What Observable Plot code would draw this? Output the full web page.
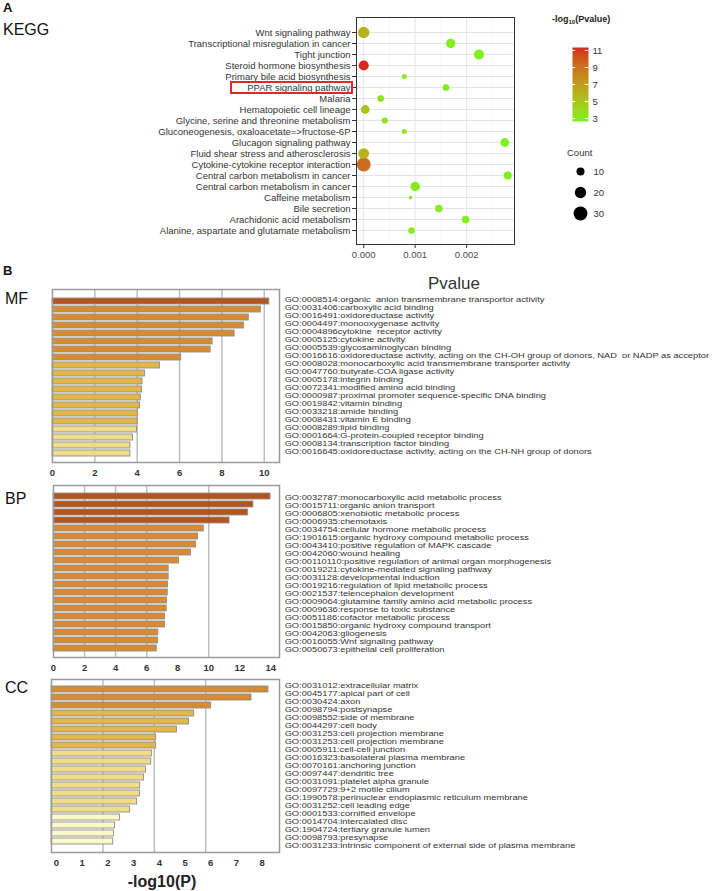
<!DOCTYPE html>
<html>
<head>
<meta charset="utf-8">
<script src="https://cdn.jsdelivr.net/npm/d3@7"></script>
<script src="https://cdn.jsdelivr.net/npm/@observablehq/plot@0.6"></script>
<style>
  body { margin: 0; background: #fff; }
  #root { position: relative; width: 718px; height: 891px; background: #fff; font-family: "Liberation Sans", Arial, sans-serif; color: #222; overflow: hidden; }
  #root svg { overflow: visible; }
  .lbl { position: absolute; white-space: nowrap; line-height: 1; }
</style>
</head>
<body>
<div id="root"></div>
<script>
// ---------------- Panel A data (KEGG) ----------------
const keggTerms = [
  "Wnt signaling pathway",
  "Transcriptional misregulation in cancer",
  "Tight junction",
  "Steroid hormone biosynthesis",
  "Primary bile acid biosynthesis",
  "PPAR signaling pathway",
  "Malaria",
  "Hematopoietic cell lineage",
  "Glycine, serine and threonine metabolism",
  "Gluconeogenesis, oxaloacetate=>fructose-6P",
  "Glucagon signaling pathway",
  "Fluid shear stress and atherosclerosis",
  "Cytokine-cytokine receptor interaction",
  "Central carbon metabolism in cancer",
  "Central carbon metabolism in cancer",
  "Caffeine metabolism",
  "Bile secretion",
  "Arachidonic acid metabolism",
  "Alanine, aspartate and glutamate metabolism"
];
const keggPvalue = [0.00000, 0.00169, 0.00224, 0.00000, 0.00079, 0.00160, 0.00033, 0.00003, 0.00041, 0.00079, 0.00274, 0.00000, 0.00000, 0.00280, 0.00100, 0.00091, 0.00146, 0.00198, 0.00093];
const keggLogP   = [6.0, 2.8, 2.7, 11.3, 3.1, 2.8, 3.5, 5.2, 3.4, 3.1, 2.6, 6.0, 9.3, 2.6, 3.0, 3.0, 2.8, 2.7, 3.0];
const keggCount  = [20, 14, 16, 16, 4, 7, 7, 12, 6, 4, 12, 18, 30, 10, 14, 2, 9, 9, 7];
const colorTicks = [3, 5, 7, 9, 11];
const countTicks = [10, 20, 30];
const keggXTicks = [0, 0.001, 0.002];
const keggXMinor = [0.0005, 0.0015, 0.0025];

// ---------------- Panel B data (GO) ----------------
const mfTerms = [
  "GO:0008514:organic  anion transmembrane transportor activity",
  "GO:0031406:carboxylic acid binding",
  "GO:0016491:oxidoreductase activity",
  "GO:0004497:monooxygenase activity",
  "GO:0004896cytokine  receptor activity",
  "GO:0005125:cytokine activity",
  "GO:0005539:glycosaminoglycan binding",
  "GO:0016616:oxidoreductase activity, acting on the CH-OH group of donors, NAD  or NADP as acceptor",
  "GO:0008028:monocarboxylic acid transmembrane transporter activity",
  "GO:0047760:butyrate-COA ligase activity",
  "GO:0005178:integrin binding",
  "GO:0072341:modified amino acid binding",
  "GO:0000987:proximal promoter sequence-specific DNA binding",
  "GO:0019842:vitamin binding",
  "GO:0033218:amide binding",
  "GO:0008431:vitamin E binding",
  "GO:0008289:lipid binding",
  "GO:0001664:G-protein-coupled receptor binding",
  "GO:0008134:transcription factor binding",
  "GO:0016645:oxidoreductase activity, acting on the CH-NH group of donors"
];
const mfValues = [10.24, 9.84, 9.27, 9.04, 8.60, 7.56, 7.47, 6.08, 5.08, 4.37, 4.25, 4.23, 4.17, 4.13, 4.04, 4.02, 3.99, 3.80, 3.68, 3.68];

const bpTerms = [
  "GO:0032787:monocarboxylic acid metabolic process",
  "GO:0015711:organic anion transport",
  "GO:0006805:xenobiotic metabolic process",
  "GO:0006935:chemotaxis",
  "GO:0034754:cellular hormone metabolic process",
  "GO:1901615:organic hydroxy compound metabolic process",
  "GO:0043410:positive regulation of MAPK cascade",
  "GO:0042060:wound healing",
  "GO:00110110:positive regulation of animal organ morphogenesis",
  "GO:0019221:cytokine-mediated signaling pathway",
  "GO:0031128:developmental induction",
  "GO:0019216:regulation of lipid metabolic process",
  "GO:0021537:telencephalon development",
  "GO:0009064:glutamine family amino acid metabolic process",
  "GO:0009636:response to toxic substance",
  "GO:0051186:cofactor metabolic process",
  "GO:0015850:organic hydroxy compound transport",
  "GO:0042063:gliogenesis",
  "GO:0016055:Wnt signaling pathway",
  "GO:0050673:epithelial cell proliferation"
];
const bpValues = [13.98, 12.88, 12.54, 11.34, 9.68, 9.31, 9.19, 8.86, 8.09, 7.42, 7.42, 7.38, 7.36, 7.31, 7.29, 7.18, 7.18, 6.75, 6.73, 6.65];

const ccTerms = [
  "GO:0031012:extracellular matrix",
  "GO:0045177:apical part of cell",
  "GO:0030424:axon",
  "GO:0098794:postsynapse",
  "GO:0098552:side of membrane",
  "GO:0044297:cell body",
  "GO:0031253:cell projection membrane",
  "GO:0031253:cell projection membrane",
  "GO:0005911:cell-cell junction",
  "GO:0016323:basolateral plasma membrane",
  "GO:0070161:anchoring junction",
  "GO:0097447:dendritic tree",
  "GO:0031091:platelet alpha granule",
  "GO:0097729:9+2 motile cilium",
  "GO:1990578:perinuclear endoplasmic reticulum membrane",
  "GO:0031252:cell leading edge",
  "GO:0001533:cornified envelope",
  "GO:0014704:intercalated disc",
  "GO:1904724:tertiary granule lumen",
  "GO:0098793:presynapse",
  "GO:0031233:intrinsic component of external side of plasma membrane"
];
const ccValues = [8.44, 7.78, 6.21, 5.55, 5.35, 4.88, 4.07, 4.07, 3.91, 3.88, 3.68, 3.60, 3.45, 3.44, 3.33, 3.06, 2.67, 2.47, 2.43, 2.40];

const barThresholds = [3, 4, 6, 10];
const barColors = ["#fbf9c6", "#f1dd86", "#e4b645", "#d98b31", "#b4541f"];

// ---------------- helpers ----------------
const root = document.getElementById("root");
function place(el, left, top) {
  el.style.position = "absolute";
  el.style.left = left + "px";
  el.style.top = top + "px";
  root.appendChild(el);
  return el;
}
function label(html, left, top, style) {
  const d = document.createElement("div");
  d.className = "lbl";
  d.innerHTML = html;
  Object.assign(d.style, style || {});
  return place(d, left, top);
}
const FONT = "Liberation Sans, Arial, sans-serif";

// ---------------- Panel A ----------------
const kegg = keggTerms.map((t, i) => ({i, term: t, p: keggPvalue[i], logp: keggLogP[i], count: keggCount[i]}));
const colorA = {type: "linear", domain: [2.6, 11.35], range: ["#7cf21c", "#d4281e"], interpolate: "lab", clamp: true};
const rA = {domain: [0, 30], range: [0, 6.93]};

const plotA = Plot.plot({
  width: 540, height: 270,
  marginLeft: 356, marginRight: 26, marginTop: 17, marginBottom: 26,
  style: {fontFamily: FONT, fontSize: "9.5px", color: "#333", background: "transparent"},
  x: {domain: [-0.00014, 0.00293]},
  y: {type: "point", domain: d3.range(keggTerms.length), insetTop: 7, insetBottom: 7},
  color: colorA,
  r: rA,
  marks: [
    Plot.ruleX(keggXMinor, {stroke: "#f2f2f2", strokeWidth: 0.6}),
    Plot.ruleX(keggXTicks, {stroke: "#e4e4e4", strokeWidth: 1}),
    Plot.ruleY(d3.range(keggTerms.length), {stroke: "#e4e4e4", strokeWidth: 1}),
    Plot.dot(kegg, {x: "p", y: "i", r: "count", fill: "logp", stroke: null}),
    Plot.frame({stroke: "#333", strokeWidth: 1}),
    Plot.axisX({ticks: keggXTicks, tickFormat: d3.format(".3f"), tickSize: 4, tickPadding: 3, fontSize: 9.5, stroke: "#333", fill: "#4d4d4d", label: null}),
    Plot.axisY({tickSize: 4, tickPadding: 2, tickFormat: i => keggTerms[i], fontSize: 9.5, stroke: "#333", fill: "#333", label: null})
  ]
});
place(plotA, 0, 0);

// red annotation box around PPAR label
const ppY = plotA.scale("y").apply(keggTerms.indexOf("PPAR signaling pathway"));
const box = document.createElement("div");
Object.assign(box.style, {border: "2px solid #e3262b", width: "119px", height: "9px"});
place(box, 230, ppY - 6.5);

label("A", 3, 1, {fontWeight: "bold", fontSize: "13px", color: "#111"});
label("KEGG", 3, 22, {fontSize: "16px", color: "#111"});

// legend: colour bar
label("-log<sub style='font-size:6px;vertical-align:-2px'>10</sub>(Pvalue)", 552, 15, {fontWeight: "bold", fontSize: "9px", color: "#222"});
const legColor = Plot.plot({
  width: 80, height: 90,
  marginLeft: 32, marginRight: 32, marginTop: 7, marginBottom: 9,
  style: {fontFamily: FONT, fontSize: "9px", color: "#333", background: "transparent"},
  x: {domain: [0, 1], axis: null},
  y: {domain: [2.65, 11.35], axis: null},
  color: colorA,
  marks: [
    Plot.raster({fill: (x, y) => y, x1: 0, x2: 1, y1: 2.65, y2: 11.35, width: 2, height: 120, imageRendering: "auto"}),
    Plot.ruleY(colorTicks, {x1: 0, x2: 0.2, stroke: "white", strokeWidth: 1}),
    Plot.ruleY(colorTicks, {x1: 0.8, x2: 1, stroke: "white", strokeWidth: 1}),
    Plot.axisY({ticks: colorTicks, anchor: "right", tickSize: 0, tickPadding: 4, fontSize: 9.5, fill: "#333", label: null})
  ]
});
place(legColor, 540, 40);

// legend: count
label("Count", 567, 148, {fontSize: "9.5px", color: "#333"});
const legCount = Plot.plot({
  width: 80, height: 64,
  marginLeft: 34, marginRight: 34, marginTop: 10, marginBottom: 11,
  style: {fontFamily: FONT, fontSize: "9px", color: "#333", background: "transparent"},
  x: {axis: null},
  y: {type: "point", domain: countTicks, padding: 0, axis: null},
  r: rA,
  marks: [
    Plot.dot(countTicks, {y: d => d, r: d => d, fill: "black"}),
    Plot.text(countTicks, {y: d => d, text: d => String(d), frameAnchor: "right", textAnchor: "start", dx: 7, fontSize: 9.5, fill: "#333"})
  ]
});
place(legCount, 540, 160);

// ---------------- Panel B ----------------
label("B", 3, 264, {fontWeight: "bold", fontSize: "13px", color: "#111"});
label("Pvalue", 454, 275, {fontSize: "17px", color: "#333", transform: "translateX(-50%)"});
label("MF", 5, 291, {fontSize: "16px", color: "#111"});
label("BP", 5, 491, {fontSize: "16px", color: "#111"});
label("CC", 5, 680, {fontSize: "16px", color: "#111"});

function barChart(values, opts) {
  const bars = values.map((v, i) => ({i, v}));
  const height = opts.frameBottom - opts.top + 23;
  return Plot.plot({
    width: 285, height,
    marginLeft: opts.frameLeft, marginRight: 6,
    marginTop: opts.frameTop - opts.top, marginBottom: height - (opts.frameBottom - opts.top),
    style: {fontFamily: FONT, fontSize: "9px", color: "#333", background: "transparent"},
    x: {domain: [0, opts.xmax]},
    y: {type: "band", domain: d3.range(values.length), paddingInner: 0.27, paddingOuter: 0,
        insetTop: opts.insetTop, insetBottom: opts.insetBottom, axis: null},
    color: {type: "threshold", domain: barThresholds, range: barColors},
    marks: [
      Plot.ruleX(opts.grid, {stroke: "#bdbdbd", strokeWidth: 1.5}),
      Plot.barX(bars, {x: "v", y: "i", fill: "v", stroke: "#8e8e8e", strokeWidth: 0.9}),
      Plot.frame({stroke: "#9a9a9a", strokeWidth: 1.5}),
      Plot.axisX({ticks: opts.ticks, tickSize: 0, tickPadding: 7, fontSize: 9.5, fontWeight: "bold", fill: "#333", dx: opts.dx || 0, label: null})
    ]
  });
}
// GO term lists: 8px type stretched horizontally so lines stay within the 8.3px row pitch
function labelList(terms, firstY, lastY) {
  return Plot.plot({
    width: 374, height: (lastY - firstY) + 10,
    marginLeft: 0, marginRight: 0, marginTop: 5, marginBottom: 5,
    style: {fontFamily: FONT, fontSize: "8px", color: "#333", background: "transparent",
            transform: "scaleX(1.16)", transformOrigin: "0 0"},
    x: {axis: null},
    y: {type: "point", domain: d3.range(terms.length), padding: 0, axis: null},
    marks: [
      Plot.text(terms, {y: (d, i) => i, text: d => d, frameAnchor: "left", textAnchor: "start", dx: 3.5, fontSize: 8, fill: "#333"})
    ]
  });
}

place(barChart(mfValues, {top: 285, frameTop: 289, frameBottom: 462, frameLeft: 52, xmax: 10.72, insetTop: 6, insetBottom: 4, grid: [2, 4, 6, 8, 10], ticks: [0, 2, 4, 6, 8, 10]}), 0, 285);
place(labelList(mfTerms, 293.3, 457.3), 280, 288.3);

place(barChart(bpValues, {top: 481, frameTop: 485, frameBottom: 657, frameLeft: 53, xmax: 14.56, insetTop: 5, insetBottom: 4, grid: [2, 4, 6, 10], ticks: [0, 2, 4, 6, 8, 10, 12, 14]}), 0, 481);
place(labelList(bpTerms, 492.3, 654), 280, 487.3);

place(barChart(ccValues, {top: 675, frameTop: 679, frameBottom: 852, frameLeft: 51, xmax: 8.87, insetTop: 4, insetBottom: 5, grid: [2, 4, 6], ticks: [0, 1, 2, 3, 4, 5, 6, 7, 8], dx: 5}), 0, 675);
place(labelList(ccTerms, 682.3, 847.3), 280, 677.3);

label("-log10(P)", 162, 874, {fontWeight: "bold", fontSize: "16px", color: "#222", transform: "translateX(-50%)"});
</script>
</body>
</html>
